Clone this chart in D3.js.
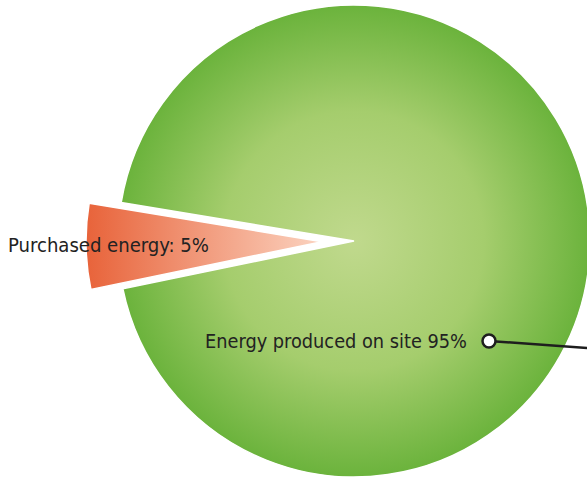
<!DOCTYPE html>
<html>
<head>
<meta charset="utf-8">
<script src="https://cdn.jsdelivr.net/npm/d3@7"></script>
<style>
  body { margin: 0; background: #fff; }
  svg { display: block; }
</style>
</head>
<body>
<script>
var categories = ["Purchased energy", "Energy produced on site"];
var values = [5.85, 94.15];
var labels = ["Purchased energy: 5%", "Energy produced on site 95%"];

var w = 587, h = 480;
var cx = 354, cy = 241;
var radius = 236;
var explode = 32;
var tilt = 1.15 * Math.PI / 180;  // small slice points slightly below horizontal

var svg = d3.select("body").append("svg")
  .attr("width", w)
  .attr("height", h);

var defs = svg.append("defs");

var green = defs.append("radialGradient")
  .attr("id", "greenGrad")
  .attr("gradientUnits", "userSpaceOnUse")
  .attr("cx", 0).attr("cy", 0).attr("r", radius);
green.append("stop").attr("offset", "0%").attr("stop-color", "#c0d98d");
green.append("stop").attr("offset", "55%").attr("stop-color", "#a5cd6d");
green.append("stop").attr("offset", "100%").attr("stop-color", "#6bb33c");

var orange = defs.append("linearGradient")
  .attr("id", "orangeGrad")
  .attr("gradientUnits", "userSpaceOnUse")
  .attr("x1", -radius).attr("y1", 0).attr("x2", 0).attr("y2", 0);
orange.append("stop").attr("offset", "0%").attr("stop-color", "#e8633a");
orange.append("stop").attr("offset", "100%").attr("stop-color", "#fbd3c0");

// small slice centred just below the left (270deg in d3's clockwise-from-top angles)
var small = values[0] / d3.sum(values) * 2 * Math.PI;
var start = 1.5 * Math.PI - tilt - small / 2;
var pie = d3.pie()
  .sort(null)
  .value(function(d){ return d; })
  .startAngle(start)
  .endAngle(start + 2 * Math.PI);

var arc = d3.arc().innerRadius(0).outerRadius(radius);
var arcs = pie(values);

var g = svg.append("g").attr("transform", "translate(" + cx + "," + cy + ")");

var fills = ["url(#orangeGrad)", "url(#greenGrad)"];

g.selectAll("path.slice")
  .data(arcs)
  .enter().append("path")
  .attr("class", "slice")
  .attr("d", arc)
  .attr("fill", function(d, i){ return fills[i]; })
  .attr("stroke", "#fff")
  .attr("stroke-width", 1.5)
  .attr("transform", function(d, i){
    if (i !== 0) return null;
    var mid = (d.startAngle + d.endAngle) / 2;
    return "translate(" + (Math.sin(mid) * explode) + "," + (-Math.cos(mid) * explode) + ")";
  });

// labels
var font = "'DejaVu Sans Condensed', 'DejaVu Sans', sans-serif";

svg.append("text")
  .attr("x", 8).attr("y", 252)
  .attr("font-family", font)
  .attr("font-size", 19)
  .attr("fill", "#222")
  .attr("textLength", 201)
  .attr("lengthAdjust", "spacingAndGlyphs")
  .text(labels[0]);

svg.append("text")
  .attr("x", 205).attr("y", 348)
  .attr("font-family", font)
  .attr("font-size", 19)
  .attr("fill", "#222")
  .attr("textLength", 262)
  .attr("lengthAdjust", "spacingAndGlyphs")
  .text(labels[1]);

// leader line + marker for the big slice
svg.append("line")
  .attr("x1", 489).attr("y1", 341)
  .attr("x2", 600).attr("y2", 349)
  .attr("stroke", "#1e1e1e")
  .attr("stroke-width", 2.5);

svg.append("circle")
  .attr("cx", 489).attr("cy", 341)
  .attr("r", 6.5)
  .attr("fill", "#fff")
  .attr("stroke", "#1e1e1e")
  .attr("stroke-width", 2.5);
</script>
</body>
</html>
